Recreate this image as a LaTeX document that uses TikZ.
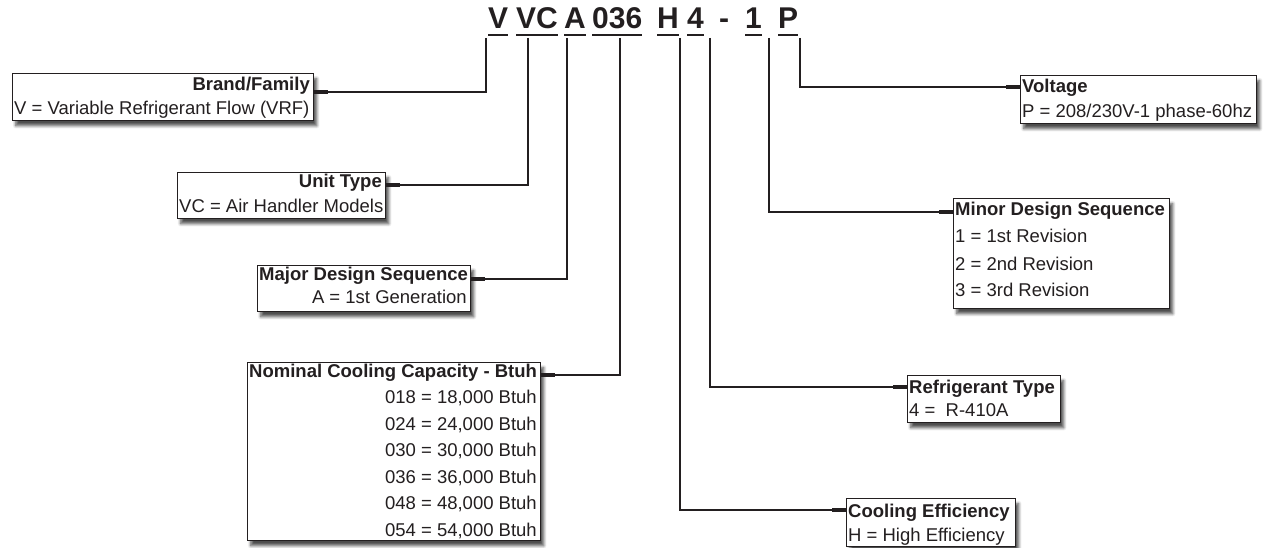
\documentclass[tikz,border=0pt]{standalone}
\usepackage{fontspec}
\setmainfont{Liberation Sans}
\usetikzlibrary{calc,shadows.blur}
\definecolor{ink}{HTML}{231F20}
\begin{document}
\begin{tikzpicture}[x=1pt,y=-1pt,
 box/.style={draw=ink, line width=1.4pt, fill=white, anchor=north west, inner sep=0pt,
   blur shadow={shadow xshift=3pt, shadow yshift=-5pt, shadow blur steps=6, shadow blur radius=3pt, shadow opacity=70}},
 code/.style={font=\fontsize{30}{30}\selectfont\bfseries, text=ink, anchor=base west, inner sep=0pt},
 ttl/.style={font=\fontsize{18.5}{20}\selectfont\bfseries, text=ink, inner sep=0pt},
 txt/.style={font=\fontsize{18.5}{20}\selectfont, text=ink, inner sep=0pt},
 conn/.style={draw=ink, line width=2.7pt},
 stub/.style={draw=ink, line width=4.8pt},
 uline/.style={draw=ink, line width=2.6pt}]
\useasboundingbox (0,0) rectangle (1264,548);

% code letters
\node[code] (cV) at (488,29) {V};
\node[code] (cVC) at (516,29) {VC};
\node[code] (cA) at (564,29) {A};
\node[code] (c036) at (592,29) {036};
\node[code] (cH) at (657,29) {H};
\node[code] (c4) at (687,29) {4};
\node[code] (cDash) at (719,29) {-};
\node[code] (c1) at (745,29) {1};
\node[code] (cP) at (778,29) {P};
\foreach \n in {cV,cVC,cA,c036,cH,c4,c1,cP}{
  \draw[uline] ($(\n.base west)+(0,6)$) -- ($(\n.base east)+(0,6)$);
}

% top ends of connectors
\coordinate (tV) at (486,38);
\coordinate (tVC) at (528,38);
\coordinate (tA) at (567,38);
\coordinate (t036) at (620,38);
\coordinate (tH) at (680,38);
\coordinate (t4) at (710,38);
\coordinate (t1) at (769,38);
\coordinate (tP) at (800,38);

% boxes
\node[box, minimum width=301pt, minimum height=47pt] (brand) at (12,73) {};
\node[box, minimum width=208pt, minimum height=46pt] (unit) at (177,172) {};
\node[box, minimum width=213pt, minimum height=46pt] (major) at (257,265) {};
\node[box, minimum width=293pt, minimum height=178pt] (nominal) at (247,362) {};
\node[box, minimum width=236pt, minimum height=48pt] (volt) at (1020,75) {};
\node[box, minimum width=216pt, minimum height=110pt] (minor) at (953,198) {};
\node[box, minimum width=153pt, minimum height=47pt] (refrig) at (907,375) {};
\node[box, minimum width=169pt, minimum height=48pt] (cool) at (846,498) {};

% attachment points
\coordinate (aBrand) at ($(brand.north east)+(0,19)$);
\coordinate (aUnit) at ($(unit.north east)+(0,13)$);
\coordinate (aMajor) at ($(major.north east)+(0,14)$);
\coordinate (aNominal) at ($(nominal.north east)+(0,13)$);
\coordinate (aVolt) at ($(volt.north west)+(0,12)$);
\coordinate (aMinor) at ($(minor.north west)+(0,14)$);
\coordinate (aRefrig) at ($(refrig.north west)+(0,12)$);
\coordinate (aCool) at ($(cool.north west)+(0,12)$);

% connectors
\draw[conn] (tV) |- (aBrand);
\draw[conn] (tVC) |- (aUnit);
\draw[conn] (tA) |- (aMajor);
\draw[conn] (t036) |- (aNominal);
\draw[conn] (tP) |- (aVolt);
\draw[conn] (t1) |- (aMinor);
\draw[conn] (t4) |- (aRefrig);
\draw[conn] (tH) |- (aCool);
\draw[stub] (aBrand) -- ++(14,0);
\draw[stub] (aUnit) -- ++(14,0);
\draw[stub] (aMajor) -- ++(14,0);
\draw[stub] (aNominal) -- ++(14,0);
\draw[stub] (aVolt) -- ++(-14,0);
\draw[stub] (aMinor) -- ++(-14,0);
\draw[stub] (aRefrig) -- ++(-14,0);
\draw[stub] (aCool) -- ++(-14,0);

% texts
\node[ttl, anchor=base east] (brandT) at (310,91) {Brand/Family};
\node[txt, anchor=base west] (brandL) at (14,115) {V = Variable Refrigerant Flow (VRF)};

\node[ttl, anchor=base east] (unitT) at (382,188) {Unit Type};
\node[txt, anchor=base west] (unitL) at (179,213) {VC = Air Handler Models};

\node[ttl, anchor=base west] (majorT) at (259,280) {Major Design Sequence};
\node[txt, anchor=base east] (majorL) at (467,303) {A = 1st Generation};

\node[ttl, anchor=base west] (nomT) at (249,377) {Nominal Cooling Capacity - Btuh};
\node[txt, anchor=base east] (nom1) at (537,403.5) {018 = 18,000 Btuh};
\node[txt, anchor=base east] (nom2) at (537,430) {024 = 24,000 Btuh};
\node[txt, anchor=base east] (nom3) at (537,456.5) {030 = 30,000 Btuh};
\node[txt, anchor=base east] (nom4) at (537,483) {036 = 36,000 Btuh};
\node[txt, anchor=base east] (nom5) at (537,509.5) {048 = 48,000 Btuh};
\node[txt, anchor=base east] (nom6) at (537,536) {054 = 54,000 Btuh};

\node[ttl, anchor=base west] (voltT) at (1022,93) {Voltage};
\node[txt, anchor=base west] (voltL) at (1022,118) {P = 208/230V-1 phase-60hz};

\node[ttl, anchor=base west] (minorT) at (955,216) {Minor Design Sequence};
\node[txt, anchor=base west] (minor1) at (955,243) {1 = 1st Revision};
\node[txt, anchor=base west] (minor2) at (955,270) {2 = 2nd Revision};
\node[txt, anchor=base west] (minor3) at (955,296) {3 = 3rd Revision};

\node[ttl, anchor=base west] (refT) at (909,393) {Refrigerant Type};
\node[txt, anchor=base west] (refL) at (909,416) {4 =\ \ R-410A};

\node[ttl, anchor=base west] (coolT) at (848,517) {Cooling Efficiency};
\node[txt, anchor=base west] (coolL) at (848,541) {H = High Efficiency};
\end{tikzpicture}
\end{document}
